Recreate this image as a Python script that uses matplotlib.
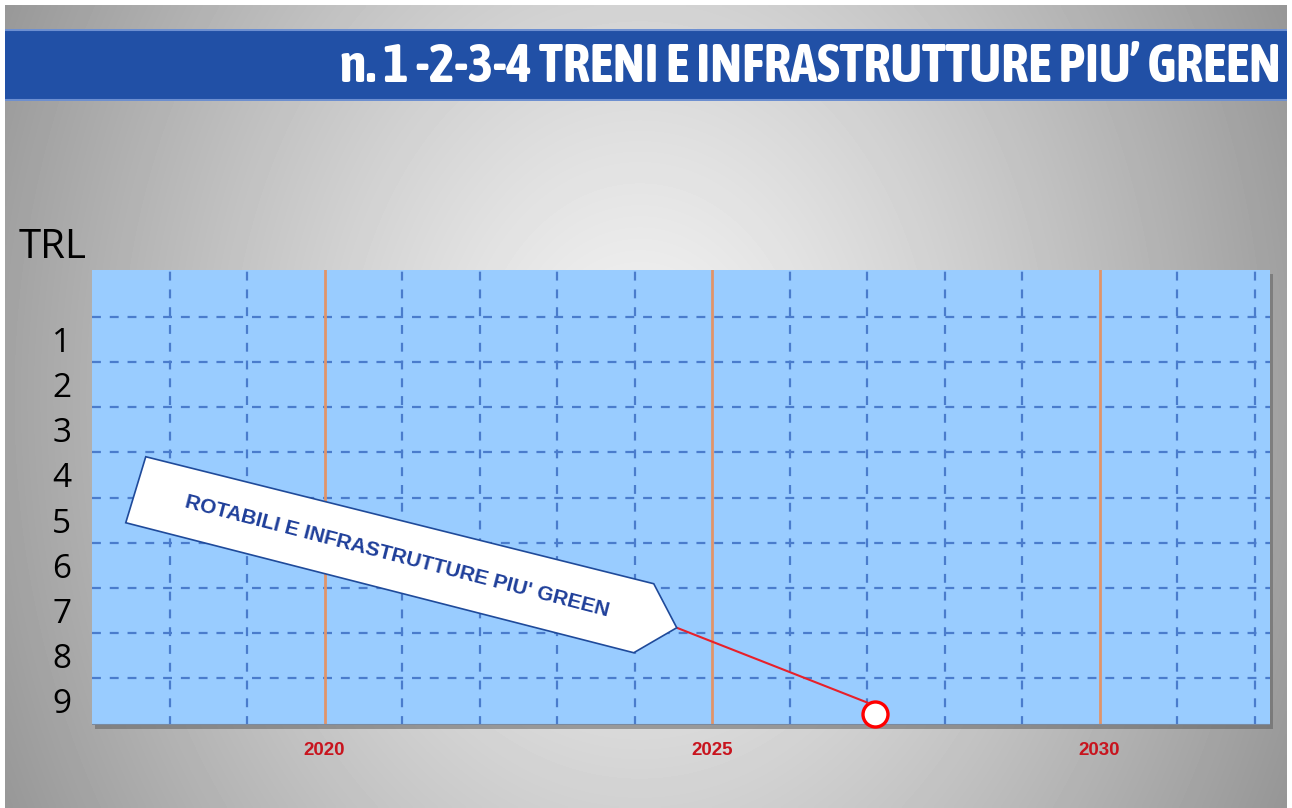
import numpy as np
import matplotlib
matplotlib.use('Agg')
import matplotlib.pyplot as plt
import matplotlib.patches as patches
from matplotlib import font_manager
from matplotlib.transforms import IdentityTransform

# chart data
title = 'n. 1 -2-3-4 TRENI E INFRASTRUTTURE PIU’ GREEN'
callout = "ROTABILI E INFRASTRUTTURE PIU' GREEN"
year_labels = [2020, 2025, 2030]          # labelled years (orange lines)
grid_years = list(range(2018, 2033))      # yearly dashed grid
trl_levels = [1, 2, 3, 4, 5, 6, 7, 8, 9]
milestone_year = [2027.1]
milestone_trl = [9.3]

W, H = 1292, 808
fig = plt.figure(figsize=(W / 100, H / 100), dpi=100)
fig.patch.set_facecolor('white')

# look for a condensed bold face for the title, else a plain bold sans
narrow = None
for f in font_manager.fontManager.ttflist:
    n = f.name.lower()
    if ('narrow' in n or 'condensed' in n or 'compressed' in n) and f.weight in ('bold', 700, 800, 900):
        narrow = f.name
        break
if narrow is None:
    for f in font_manager.fontManager.ttflist:
        if 'condensed' in str(f.stretch).lower() or 'narrow' in f.name.lower():
            narrow = f.name
            break
title_family = [narrow, 'Liberation Sans'] if narrow else ['Liberation Sans']

# radial grey background
bg = fig.add_axes([5 / W, 0, (W - 10) / W, (H - 5) / H], zorder=-5)
xx, yy = np.meshgrid(np.linspace(5, W - 5, 400), np.linspace(5, H, 260))
r = np.sqrt(((xx - 640) / 700) ** 2 + ((yy - 400) / 900) ** 2)
v = np.clip(0.96 - 0.36 * r ** 1.2, 0, 1)
bg.imshow(v, cmap='gray', vmin=0, vmax=1, aspect='auto', interpolation='bilinear')
bg.set_xlim(-0.5, 399.5); bg.set_ylim(259.5, -0.5)
bg.axis('off')
# drop shadow of the plot area (in background pixel units)
sx = lambda x: (x - 5) / (W - 10) * 400 - 0.5
sy = lambda y: (y - 5) / (H - 5) * 260 - 0.5
bg.add_patch(patches.Rectangle((sx(95), sy(274)), sx(1273) - sx(95), sy(729) - sy(274),
                               facecolor='#5a5a5a', alpha=0.5, lw=0))

# title band
band = fig.add_axes([5 / W, 1 - 101 / H, (W - 10) / W, 72 / H])
band.set_facecolor('#2150a6')
band.set_xticks([]); band.set_yticks([])
for s in band.spines.values():
    s.set_visible(False)
band.axhline(0.985, color='#6d8fd0', lw=1.5)
band.axhline(0.015, color='#6d8fd0', lw=1.5)
tt = band.text(0.995, 0.47, title, ha='right', va='center', color='white',
               fontsize=44, fontweight='bold', family=title_family)
renderer = fig.canvas.get_renderer()
wpx = tt.get_window_extent(renderer).width
tt.set_fontsize(min(44, 44 * 940 / wpx))

# main axes
ax = fig.add_axes([92 / W, 1 - 725 / H, 1178 / W, 455 / H])
ax.set_facecolor('#99ccff')
ax.set_xlim(2017.0, 2032.2)
ax.set_ylim(9.55, -0.55)

ax.set_xticks(year_labels)
ax.set_xticklabels([str(y) for y in year_labels], color='#c8141e',
                   fontsize=13.5, fontweight='bold', family='Liberation Sans')
ax.set_xticks(grid_years, minor=True)
ax.set_yticks(trl_levels)
ax.set_yticklabels([str(t) for t in trl_levels], fontsize=24, family='Open Sans')
ax.set_yticks([t - 0.5 for t in trl_levels], minor=True)
ax.tick_params(which='both', length=0)
ax.tick_params(axis='x', pad=12)
ax.tick_params(axis='y', pad=15)

for y in grid_years:
    if y not in year_labels:
        ax.axvline(y, color='#4a7ccc', lw=1.6, ls=(0, (4, 4)), zorder=1)
for t in trl_levels:
    ax.axhline(t - 0.5, color='#4a7ccc', lw=1.6, ls=(0, (4, 4)), zorder=1)
for y in year_labels:
    ax.axvline(y, color='#e0946a', lw=2, zorder=2)
for s in ax.spines.values():
    s.set_visible(False)
ax.axhline(ax.get_ylim()[0], color='#7a8aa0', lw=1.5, zorder=3)

ax.text(-0.062, 1.005, 'TRL', transform=ax.transAxes, ha='left', va='bottom',
        fontsize=29, family='Open Sans')

# milestone point
ax.plot(milestone_year, milestone_trl, 'o', ms=18, mfc='white', mec='#ff0000',
        mew=2.4, zorder=6, clip_on=False)

# callout arrow box, placed in pixels relative to the milestone
px, py = ax.transData.transform((milestone_year[0], milestone_trl[0]))
tx, ty = px - 198, py + 86
shape = np.array([[-531, 171], [-551, 105], [-43, -25], [0, 0], [-23, 44]], float)
poly = patches.Polygon(shape + [tx, ty], closed=True, transform=IdentityTransform(),
                       facecolor='white', edgecolor='#1f4a9a', lw=1.2, zorder=5)
fig.patches.append(poly)
fig.add_artist(plt.Line2D([tx, px - 7], [ty, py + 11], transform=IdentityTransform(),
                          color='#e8202a', lw=1.5, zorder=5))
fig.text((tx - 280) / W, (ty + 71) / H, callout, rotation=-14.5, rotation_mode='anchor',
         ha='center', va='center', color='#1f3f9a', fontsize=15, fontweight='bold',
         family='Liberation Sans', zorder=7)

fig.savefig('out.png', dpi=100)
